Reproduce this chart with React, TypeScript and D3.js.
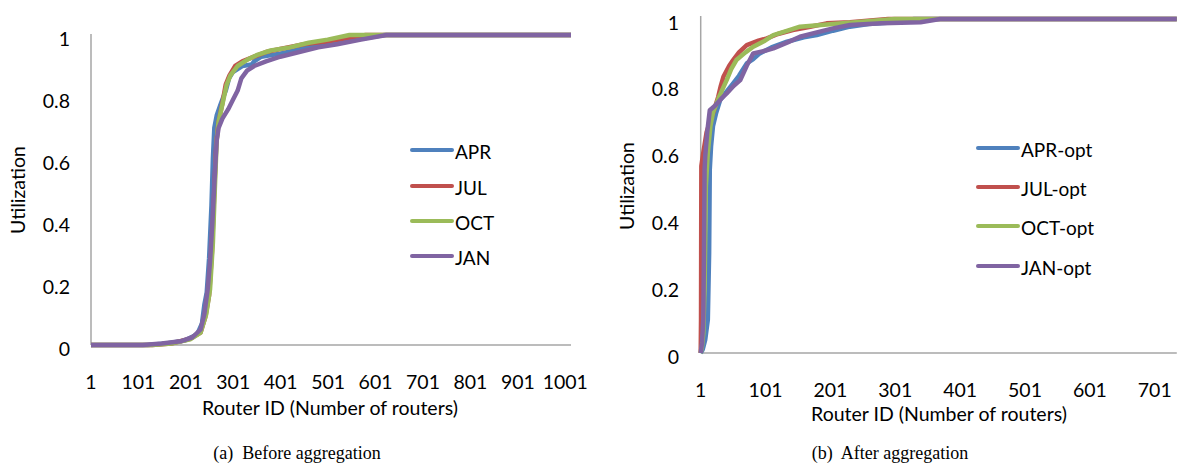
import React from "react";
import * as d3 from "d3";

type Pt = [number, number];

// ---- Data: (a) Before aggregation ----
const beforeSeriesNames = ["APR", "JUL", "OCT", "JAN"];
const aprBefore: Pt[] = [[1,0],[120,0],[160,0.005],[200,0.015],[225,0.035],[235,0.07],[240,0.13],[245,0.17],[250,0.28],[255,0.45],[258,0.6],[261,0.7],[266,0.74],[275,0.78],[285,0.82],[292,0.86],[300,0.88],[320,0.9],[340,0.905],[345,0.915],[360,0.93],[400,0.94],[430,0.95],[470,0.965],[500,0.975],[540,0.985],[580,0.99],[620,1],[1013,1]];
const julBefore: Pt[] = [[1,0],[130,0],[170,0.005],[210,0.02],[232,0.04],[242,0.09],[250,0.16],[256,0.3],[261,0.5],[265,0.65],[270,0.72],[278,0.78],[285,0.84],[293,0.87],[305,0.9],[320,0.915],[345,0.93],[370,0.945],[400,0.955],[450,0.97],[500,0.98],[540,0.99],[580,1],[1013,1]];
const octBefore: Pt[] = [[1,0],[130,0],[170,0.005],[210,0.018],[232,0.04],[244,0.1],[252,0.18],[258,0.33],[262,0.5],[266,0.66],[270,0.72],[280,0.79],[287,0.84],[295,0.87],[310,0.9],[330,0.92],[350,0.935],[380,0.95],[420,0.96],[460,0.975],[500,0.985],[546,1],[1013,1]];
const janBefore: Pt[] = [[1,0],[110,0],[150,0.005],[190,0.012],[215,0.025],[232,0.05],[240,0.1],[247,0.18],[252,0.27],[257,0.4],[262,0.55],[266,0.66],[270,0.7],[278,0.73],[290,0.76],[300,0.79],[310,0.82],[318,0.86],[330,0.885],[345,0.9],[370,0.915],[400,0.93],[440,0.945],[480,0.96],[520,0.97],[570,0.985],[624,1],[1013,1]];

// ---- Data: (b) After aggregation ----
const afterSeriesNames = ["APR-opt", "JUL-opt", "OCT-opt", "JAN-opt"];
const aprAfter: Pt[] = [[1,0],[4,0.01],[8,0.04],[12,0.1],[14,0.3],[15,0.55],[17,0.62],[20,0.68],[25,0.72],[31,0.757],[40,0.78],[51,0.807],[60,0.83],[72,0.867],[82,0.88],[92,0.897],[110,0.915],[134,0.932],[160,0.945],[180,0.952],[205,0.965],[231,0.977],[260,0.985],[300,0.99],[330,1],[735,1]];
const julAfter: Pt[] = [[1,0],[1.5,0.1],[2,0.56],[5,0.6],[10,0.66],[15,0.69],[22,0.73],[28,0.767],[32,0.8],[36,0.827],[45,0.86],[51,0.877],[60,0.9],[72,0.922],[90,0.935],[103,0.942],[120,0.955],[143,0.967],[170,0.977],[195,0.987],[231,0.99],[290,1],[735,1]];
const octAfter: Pt[] = [[1,0],[3,0.02],[5,0.06],[7,0.2],[9,0.5],[12,0.6],[16,0.68],[20,0.72],[30,0.77],[41,0.817],[48,0.85],[56,0.877],[70,0.9],[82,0.917],[100,0.935],[113,0.952],[135,0.965],[154,0.977],[205,0.985],[240,0.99],[300,1],[735,1]];
const janAfter: Pt[] = [[1,0],[3,0.03],[5,0.1],[6,0.3],[7,0.55],[8,0.59],[11,0.66],[15,0.727],[23,0.74],[32,0.76],[41,0.777],[52,0.8],[62,0.817],[72,0.86],[82,0.897],[100,0.905],[113,0.912],[135,0.93],[154,0.947],[180,0.96],[205,0.972],[231,0.982],[280,0.987],[340,0.99],[370,1],[735,1]];

// ---- Tick labels ----
const yTicks = [0, 0.2, 0.4, 0.6, 0.8, 1];
const xTicksBefore = [1, 101, 201, 301, 401, 501, 601, 701, 801, 901, 1001];
const xTicksAfter = [1, 101, 201, 301, 401, 501, 601, 701];
const colors = ["#4F81BD", "#C0504D", "#9BBB59", "#8064A2"];

const FONT = "Lato, 'Open Sans', sans-serif";
const AXIS = "#A6A6A6";
const FS = 19.5;

type PanelProps = {
  series: Pt[][];
  names: string[];
  xTicks: number[];
  xDomain: [number, number];
  xRange: [number, number];
  yRange: [number, number];
  yLabelX: number;
  xLabelY: number;
  xTitleY: number;
  xTitleX: number;
  yTitleX: number;
  axisTop: number;
  legendX: number;
  legendY: number[];
  caption: string;
  captionX: number;
  captionY: number;
};

function Panel(p: PanelProps) {
  const x = d3.scaleLinear().domain(p.xDomain).range(p.xRange);
  const y = d3.scaleLinear().domain([0, 1]).range(p.yRange);
  const line = d3
    .line<Pt>()
    .x((d) => x(d[0]))
    .y((d) => y(d[1]));
  const yMid = (p.yRange[0] + p.yRange[1]) / 2;
  return (
    <g>
      <line x1={p.xRange[0]} x2={p.xRange[0]} y1={p.axisTop} y2={p.yRange[0]} stroke={AXIS} strokeWidth={1.5} />
      <line x1={p.xRange[0]} x2={p.xRange[1]} y1={p.yRange[0]} y2={p.yRange[0]} stroke={AXIS} strokeWidth={1.5} />
      {p.series.map((s, i) => (
        <path key={i} d={line(s) || ""} fill="none" stroke={colors[i]} strokeWidth={4.5} strokeLinejoin="round" />
      ))}
      {yTicks.map((t) => (
        <text key={t} x={p.yLabelX} y={y(t) + 3} textAnchor="end" dominantBaseline="central" fontFamily={FONT} fontSize={FS} fill="#000">
          {String(t)}
        </text>
      ))}
      {p.xTicks.map((t) => (
        <text key={t} x={x(t)} y={p.xLabelY} textAnchor="middle" dominantBaseline="central" fontFamily={FONT} fontSize={FS} fill="#000">
          {String(t)}
        </text>
      ))}
      <text x={p.xTitleX} y={p.xTitleY} textAnchor="middle" dominantBaseline="central" fontFamily={FONT} fontSize={FS} fill="#000">
        Router ID (Number of routers)
      </text>
      <text transform={`translate(${p.yTitleX},${yMid}) rotate(-90)`} textAnchor="middle" dominantBaseline="central" fontFamily={FONT} fontSize={FS} fill="#000">
        Utilization
      </text>
      {p.names.map((n, i) => (
        <g key={n}>
          <line x1={p.legendX} x2={p.legendX + 40} y1={p.legendY[i]} y2={p.legendY[i]} stroke={colors[i]} strokeWidth={4} strokeLinecap="round" />
          <text x={p.legendX + 43} y={p.legendY[i] + 1} dominantBaseline="central" fontFamily={FONT} fontSize={19} fill="#000">
            {n}
          </text>
        </g>
      ))}
      <text x={p.captionX} y={p.captionY} textAnchor="middle" dominantBaseline="central" fontFamily="'Liberation Serif', 'Times New Roman', serif" fontSize={18} fill="#000" style={{ whiteSpace: "pre" }}>
        {p.caption}
      </text>
    </g>
  );
}

export default function App() {
  return (
    <div style={{ position: "absolute", left: 0, top: 0, width: 1177, height: 470, overflow: "hidden", background: "#fff" }}>
      <svg width={1177} height={470} viewBox="0 0 1177 470">
        <rect x={0} y={0} width={1177} height={470} fill="#fff" />
        <Panel
          series={[aprBefore, julBefore, octBefore, janBefore]}
          names={beforeSeriesNames}
          xTicks={xTicksBefore}
          xDomain={[1, 1013]}
          xRange={[91, 571]}
          yRange={[345, 35]}
          axisTop={34}
          yLabelX={70}
          xLabelY={381}
          xTitleY={407}
          xTitleX={330}
          yTitleX={17}
          legendX={412}
          legendY={[150, 186, 221, 256]}
          caption="(a)  Before aggregation"
          captionX={297}
          captionY={453}
        />
        <Panel
          series={[aprAfter, julAfter, octAfter, janAfter]}
          names={afterSeriesNames}
          xTicks={xTicksAfter}
          xDomain={[1, 735]}
          xRange={[700.7, 1176.8]}
          yRange={[353, 19]}
          axisTop={16}
          yLabelX={679}
          xLabelY={389}
          xTitleY={413}
          xTitleX={939}
          yTitleX={626}
          legendX={978}
          legendY={[148, 187, 226, 266]}
          caption="(b)  After aggregation"
          captionX={890}
          captionY={453}
        />
      </svg>
    </div>
  );
}
